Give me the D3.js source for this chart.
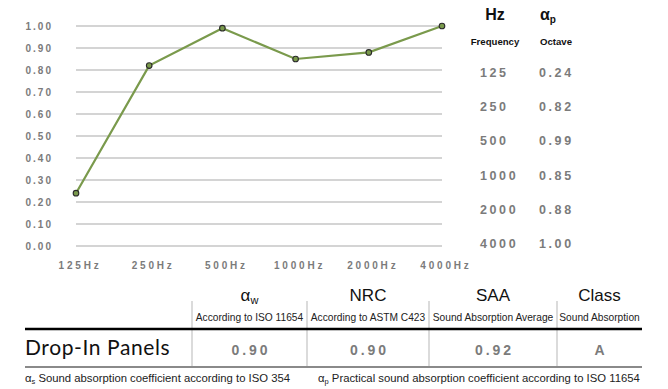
<!DOCTYPE html>
<html>
<head>
<meta charset="utf-8">
<script src="https://cdn.jsdelivr.net/npm/d3@7/dist/d3.min.js"></script>
<style>
  html, body { margin: 0; padding: 0; background: #fff; }
  svg { display: block; }
</style>
</head>
<body>
<svg id="chart" width="668" height="389"></svg>
<script>
// Octave band frequencies and practical absorption coefficients
const frequencies = ["125Hz", "250Hz", "500Hz", "1000Hz", "2000Hz", "4000Hz"];
const bandLabels = ["125", "250", "500", "1000", "2000", "4000"];
const alphaP = [0.24, 0.82, 0.99, 0.85, 0.88, 1.00];
const yTickValues = [0, 0.1, 0.2, 0.3, 0.4, 0.5, 0.6, 0.7, 0.8, 0.9, 1.0];

// Single-number ratings table
const productName = "Drop-In Panels";
const ratingNames = ["α", "NRC", "SAA", "Class"];
const ratingSubs = ["w", "", "", ""];
const ratingNotes = ["According to ISO 11654", "According to ASTM C423", "Sound Absorption Average", "Sound Absorption"];
const ratingValues = ["0.90", "0.90", "0.92", "A"];

const svg = d3.select("#chart");
const grey = "#7b7b7b";
const lineColor = "#7a9a4c";
const sans = "Liberation Sans, Arial, sans-serif";

// ---- Line chart ----
const x = d3.scalePoint().domain(frequencies).range([76, 442]);
const y = d3.scaleLinear().domain([0, 1]).range([246, 26]);

const grid = svg.append("g");
grid.selectAll("line").data(yTickValues).join("line")
  .attr("x1", 76).attr("x2", 442)
  .attr("y1", d => y(d)).attr("y2", d => y(d))
  .attr("stroke", "#c6c6c6").attr("stroke-width", 1.3);

const yAxis = d3.axisLeft(y).tickValues(yTickValues).tickFormat(d3.format(".2f")).tickSize(0).tickPadding(0);
svg.append("g").attr("transform", "translate(53,0)").call(yAxis)
  .call(g => g.select(".domain").remove())
  .selectAll("text")
  .attr("fill", grey).attr("font-family", sans)
  .attr("font-weight", "bold").attr("font-size", "10px").attr("letter-spacing", "2px")
  .attr("dy", "0.35em");

const xAxis = d3.axisBottom(x).tickSize(0).tickPadding(0);
svg.append("g").attr("transform", "translate(3.5,262)").call(xAxis)
  .call(g => g.select(".domain").remove())
  .selectAll("text")
  .attr("fill", grey).attr("font-family", sans)
  .attr("font-weight", "bold").attr("font-size", "10px").attr("letter-spacing", "2.8px");

const series = frequencies.map((f, i) => ({ f, v: alphaP[i] }));
svg.append("path").datum(series)
  .attr("fill", "none").attr("stroke", lineColor).attr("stroke-width", 2.2)
  .attr("d", d3.line().x(d => x(d.f)).y(d => y(d.v)));

svg.append("g").selectAll("circle").data(series).join("circle")
  .attr("cx", d => x(d.f)).attr("cy", d => y(d.v)).attr("r", 2.8)
  .attr("fill", lineColor).attr("stroke", "#2a2a2a").attr("stroke-width", 1.1);

// ---- Frequency / coefficient side table ----
const side = svg.append("g").attr("font-family", sans);
side.append("text").attr("x", 495).attr("y", 20).attr("text-anchor", "middle")
  .attr("font-weight", "bold").attr("font-size", "16px").attr("fill", "#111").text("Hz");
const ap = side.append("text").attr("x", 548).attr("y", 20).attr("text-anchor", "middle")
  .attr("font-weight", "bold").attr("font-size", "16px").attr("fill", "#111");
ap.append("tspan").text("α");
ap.append("tspan").attr("font-size", "10px").attr("dy", "3").text("p");
side.append("text").attr("x", 495).attr("y", 45).attr("text-anchor", "middle")
  .attr("font-weight", "bold").attr("font-size", "9.6px").attr("fill", "#111").text("Frequency");
side.append("text").attr("x", 556).attr("y", 45).attr("text-anchor", "middle")
  .attr("font-weight", "bold").attr("font-size", "9.6px").attr("fill", "#111").text("Octave");

const rowY = d3.scalePoint().domain(bandLabels).range([77, 248]);
side.selectAll("text.band").data(bandLabels).join("text").attr("class", "band")
  .attr("x", 480).attr("y", d => rowY(d))
  .attr("font-weight", "bold").attr("font-size", "12.5px").attr("letter-spacing", "2.6px")
  .attr("fill", grey).text(d => d);
side.selectAll("text.coef").data(alphaP).join("text").attr("class", "coef")
  .attr("x", 539).attr("y", (d, i) => rowY(bandLabels[i]))
  .attr("font-weight", "bold").attr("font-size", "12.5px").attr("letter-spacing", "2.6px")
  .attr("fill", grey).text(d => d3.format(".2f")(d));

// ---- Ratings table ----
const colEdges = [192, 307, 429, 557, 642];
const colCenter = i => (colEdges[i] + colEdges[i + 1]) / 2;
const table = svg.append("g").attr("font-family", sans);

table.selectAll("line.sep").data(colEdges.slice(0, 4)).join("line").attr("class", "sep")
  .attr("x1", d => d).attr("x2", d => d).attr("y1", 301).attr("y2", 367)
  .attr("stroke", "#c8c8c8").attr("stroke-width", 1.3);

table.append("line").attr("x1", 25).attr("x2", 642).attr("y1", 329).attr("y2", 329)
  .attr("stroke", "#000").attr("stroke-width", 2.4);
table.append("line").attr("x1", 25).attr("x2", 642).attr("y1", 367).attr("y2", 367)
  .attr("stroke", "#8a8a8a").attr("stroke-width", 2.2);

const heads = table.selectAll("text.head").data(ratingNames).join("text").attr("class", "head")
  .attr("x", (d, i) => colCenter(i)).attr("y", 301).attr("text-anchor", "middle")
  .attr("font-size", "17px").attr("fill", "#111");
heads.append("tspan").text(d => d);
heads.append("tspan").attr("font-size", "11px").attr("dy", 3).text((d, i) => ratingSubs[i]);

table.selectAll("text.note").data(ratingNotes).join("text").attr("class", "note")
  .attr("x", (d, i) => colCenter(i)).attr("y", 320.5).attr("text-anchor", "middle")
  .attr("font-size", "10.2px").attr("fill", "#222").text(d => d);

table.append("text").attr("x", 25).attr("y", 355)
  .attr("font-family", "Lato, 'Open Sans', sans-serif").attr("font-size", "21px")
  .attr("fill", "#111").attr("letter-spacing", "0.6px").text(productName);

table.selectAll("text.val").data(ratingValues).join("text").attr("class", "val")
  .attr("x", (d, i) => colCenter(i) + 1.5).attr("y", 355).attr("text-anchor", "middle")
  .attr("font-weight", "bold").attr("font-size", "14px").attr("letter-spacing", "3px")
  .attr("fill", grey).text(d => d);

// Footnotes
const fn1 = table.append("text").attr("x", 25).attr("y", 382).attr("font-size", "11.3px").attr("fill", "#222");
fn1.append("tspan").text("α");
fn1.append("tspan").attr("font-size", "7.5px").attr("dy", 2).text("s");
fn1.append("tspan").attr("dy", -2).text(" Sound absorption coefficient according to ISO 354");
const fn2 = table.append("text").attr("x", 318).attr("y", 382).attr("font-size", "11.3px").attr("fill", "#222");
fn2.append("tspan").text("α");
fn2.append("tspan").attr("font-size", "7.5px").attr("dy", 2).text("p");
fn2.append("tspan").attr("dy", -2).text(" Practical sound absorption coefficient according to ISO 11654");
</script>
</body>
</html>
